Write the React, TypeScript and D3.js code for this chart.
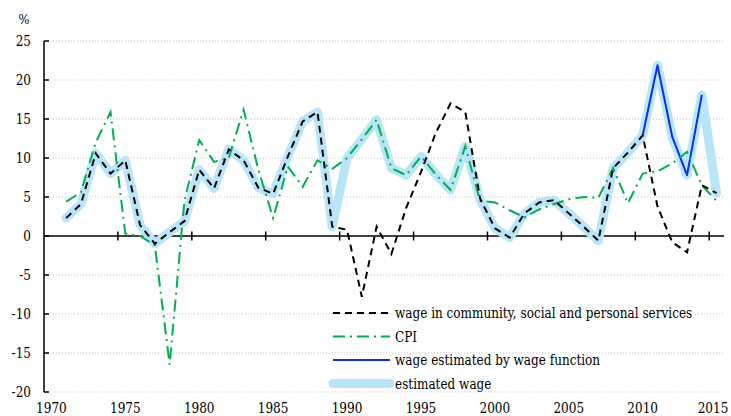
import React, { useEffect, useRef } from 'react';
import * as d3 from 'd3';

const years = [
  1971, 1972, 1973, 1974, 1975, 1976, 1977, 1978, 1979, 1980,
  1981, 1982, 1983, 1984, 1985, 1986, 1987, 1988, 1989, 1990,
  1991, 1992, 1993, 1994, 1995, 1996, 1997, 1998, 1999, 2000,
  2001, 2002, 2003, 2004, 2005, 2006, 2007, 2008, 2009, 2010,
  2011, 2012, 2013, 2014, 2015,
];

// wage in community, social and personal services
const wage = [
  2.3, 4.1, 10.6, 8.0, 9.7, 1.4, -1.0, 0.5, 1.9, 8.5,
  6.1, 11.1, 9.7, 6.2, 5.4, 10.2, 14.7, 15.9, 1.2, 0.8,
  -7.8, 1.2, -2.3, 3.6, 8.2, 13.2, 17.0, 15.9, 4.8, 1.0,
  -0.2, 2.9, 4.3, 4.6, 2.9, 1.2, -0.6, 8.7, 10.7, 12.9,
  3.8, -0.8, -2.1, 6.5, 5.5,
];

const cpi = [
  4.4, 5.6, 12.0, 15.9, 0.3, 0.0, -1.2, -16.5, 4.5, 12.3,
  9.5, 10.0, 16.2, 8.5, 2.3, 8.9, 6.3, 9.7, 8.6, 10.0,
  12.4, 14.9, 8.7, 7.8, 10.2, 7.9, 5.9, 11.5, 4.5, 4.3,
  3.3, 2.4, 3.4, 4.1, 4.7, 5.0, 4.9, 8.7, 4.2, 8.0,
  8.3, 9.3, 10.8, 6.5, 4.5,
];

const estimated = [
  2.3, 4.1, 10.6, 8.0, 9.7, 1.4, -1.0, 0.5, 1.9, 8.5,
  6.1, 11.1, 9.7, 6.2, 5.4, 10.2, 14.7, 15.9, 1.2, 10.0,
  12.4, 14.9, 8.7, 7.8, 10.2, 7.9, 5.9, 11.5, 4.7, 1.0,
  -0.2, 2.9, 4.3, 4.6, 2.9, 1.2, -0.6, 8.7, 10.7, 12.9,
  21.9, 12.7, 7.8, 18.1, 5.5,
];

const fnYears = [2010, 2011, 2012, 2013, 2014];
const wageFunction = [12.9, 21.9, 12.7, 7.8, 18.1];

const yTicks = [25, 20, 15, 10, 5, 0, -5, -10, -15, -20];
const xTicks = [1970, 1975, 1980, 1985, 1990, 1995, 2000, 2005, 2010, 2015];

const legendItems = [
  { label: 'wage in community, social and personal services', color: '#000', width: 2, dash: '7,5' },
  { label: 'CPI', color: '#00b050', width: 2, dash: '12,5,2,5' },
  { label: 'wage estimated by wage function', color: '#0a2cff', width: 2, dash: null },
  { label: 'estimated wage', color: '#b8e6f8', width: 9, dash: null },
];

const FONT = "'DejaVu Serif', serif";
// DejaVu Serif is wider than the Times face of the original; squeeze glyphs to match
const SQUEEZE = 0.86;

export default function App() {
  const ref = useRef<SVGSVGElement>(null);

  useEffect(() => {
    const svg = d3.select(ref.current);
    svg.selectAll('*').remove();

    const x = d3.scaleLinear().domain([1970, 2016]).range([44, 724]);
    const y = d3.scaleLinear().domain([-20, 25]).range([392, 41]);
    const cx = (yr: number) => x(yr + 0.5);

    const txt = (sel: any, size: number) =>
      sel.style('font-family', FONT)
        .style('font-size', size + 'px')
        .attr('fill', '#000');

    // grid
    svg.append('g')
      .selectAll('line')
      .data(yTicks.filter(d => d !== 0))
      .enter()
      .append('line')
      .attr('x1', x(1970))
      .attr('x2', x(2016))
      .attr('y1', d => y(d))
      .attr('y2', d => y(d))
      .attr('stroke', '#c4c4c4')
      .attr('stroke-width', 1)
      .attr('stroke-dasharray', '1,2');

    // y axis
    svg.append('line')
      .attr('x1', x(1970)).attr('x2', x(1970))
      .attr('y1', y(25)).attr('y2', y(-20))
      .attr('stroke', '#000').attr('stroke-width', 1.5);
    svg.append('g')
      .selectAll('line')
      .data(yTicks)
      .enter()
      .append('line')
      .attr('x1', x(1970)).attr('x2', x(1970) + 5)
      .attr('y1', d => y(d)).attr('y2', d => y(d))
      .attr('stroke', '#000').attr('stroke-width', 1.5);
    txt(svg.append('g')
      .selectAll('text')
      .data(yTicks)
      .enter()
      .append('text')
      .attr('x', 31)
      .attr('y', d => y(d) + 5)
      .attr('text-anchor', 'end'), 14)
      .text((d: number) => String(d));
    txt(svg.append('text')
      .attr('x', 24).attr('y', 24)
      .attr('text-anchor', 'middle'), 13.5)
      .text('%');

    // x axis at zero
    svg.append('line')
      .attr('x1', x(1970)).attr('x2', x(2016))
      .attr('y1', y(0)).attr('y2', y(0))
      .attr('stroke', '#000').attr('stroke-width', 1.5);
    svg.append('g')
      .selectAll('line')
      .data(xTicks.filter(d => d !== 1970))
      .enter()
      .append('line')
      .attr('x1', d => x(d)).attr('x2', d => x(d))
      .attr('y1', y(0) - 4.5).attr('y2', y(0) + 4.5)
      .attr('stroke', '#000').attr('stroke-width', 1.5);
    txt(svg.append('g')
      .selectAll('text')
      .data(xTicks)
      .enter()
      .append('text')
      .attr('x', d => Math.min(cx(d), 713))
      .attr('y', 413)
      .attr('text-anchor', 'middle'), 14)
      .text((d: number) => String(d));

    const line = d3.line<[number, number]>()
      .x(d => cx(d[0]))
      .y(d => y(d[1]));

    const zip = (xs: number[], vs: number[]) => xs.map((yr, i) => [yr, vs[i]] as [number, number]);

    svg.append('path')
      .attr('d', line(zip(years, estimated)))
      .attr('fill', 'none')
      .attr('stroke', legendItems[3].color)
      .attr('stroke-width', 9)
      .attr('stroke-linejoin', 'round')
      .attr('stroke-linecap', 'round');

    svg.append('path')
      .attr('d', line(zip(fnYears, wageFunction)))
      .attr('fill', 'none')
      .attr('stroke', legendItems[2].color)
      .attr('stroke-width', 2)
      .attr('stroke-linejoin', 'round');

    svg.append('path')
      .attr('d', line(zip(years, cpi)))
      .attr('fill', 'none')
      .attr('stroke', legendItems[1].color)
      .attr('stroke-width', 2)
      .attr('stroke-dasharray', legendItems[1].dash as string);

    svg.append('path')
      .attr('d', line(zip(years, wage)))
      .attr('fill', 'none')
      .attr('stroke', legendItems[0].color)
      .attr('stroke-width', 2)
      .attr('stroke-dasharray', legendItems[0].dash as string);

    // legend
    const lg = svg.append('g').attr('transform', 'translate(333,313)');
    const rows = lg.selectAll('g')
      .data(legendItems)
      .enter()
      .append('g')
      .attr('transform', (d, i) => `translate(0,${i * 23.5})`);
    rows.append('line')
      .attr('x1', 0).attr('x2', 57)
      .attr('y1', 0).attr('y2', 0)
      .attr('stroke', d => d.color)
      .attr('stroke-width', d => d.width)
      .attr('stroke-linecap', d => (d.width > 4 ? 'round' : 'butt'))
      .attr('stroke-dasharray', d => d.dash ?? null);
    txt(rows.append('text')
      .attr('x', 62).attr('y', 5)
      .attr('stroke', '#fff')
      .attr('stroke-width', 3)
      .attr('paint-order', 'stroke'), 14)
      .text((d: any) => d.label);

    svg.selectAll<SVGTextElement, unknown>('text').each(function () {
      const len = this.getComputedTextLength();
      d3.select(this)
        .attr('textLength', len * SQUEEZE)
        .attr('lengthAdjust', 'spacingAndGlyphs');
    });
  }, []);

  return (
    <svg
      ref={ref}
      width={731}
      height={416}
      style={{ position: 'absolute', left: 0, top: 0, background: '#fff' }}
    />
  );
}
